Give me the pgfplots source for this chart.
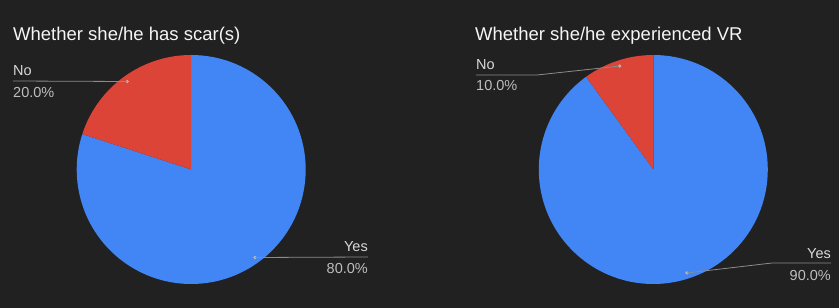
\documentclass[border=0pt]{standalone}
\usepackage{pgfplots}
\pgfplotsset{compat=1.18}
\usepackage{pgfplotstable}
\usepackage{fontspec}
\setmainfont{Liberation Sans}

\definecolor{bg}{HTML}{212121}
\definecolor{pieblue}{HTML}{4285F4}
\definecolor{piered}{HTML}{DB4437}
\definecolor{titlecol}{HTML}{F5F5F5}
\definecolor{labcol}{HTML}{D9D9D9}
\definecolor{pctcol}{HTML}{BDBDBD}
\definecolor{leadcol}{HTML}{8C8C8C}

% shares in percent, slices run clockwise from 12 o'clock
\pgfplotstableread{
answer share
Yes 80
No 20
}\scartable
\pgfplotstableread{
answer share
Yes 90
No 10
}\vrtable

\newcommand\getshare[3]{\pgfplotstablegetelem{#2}{share}\of#1\edef#3{\pgfplotsretval}}

% slice angles and label-dot positions (dot at 95% of the radius)
\newcommand\pieangles[3]{%
  \getshare#1{0}\tmpYes
  \getshare#1{1}\tmpNo
  \pgfmathsetmacro#2{90-3.6*\tmpYes}%
  \pgfmathsetmacro\tmpa{90-1.8*\tmpYes}%
  \pgfmathsetmacro\tmpb{90-3.6*\tmpYes-1.8*\tmpNo}%
  \pgfmathsetmacro\tmpyx{0.95*cos(\tmpa)}%
  \pgfmathsetmacro\tmpyy{0.95*sin(\tmpa)}%
  \pgfmathsetmacro\tmpnx{0.95*cos(\tmpb)}%
  \pgfmathsetmacro\tmpny{0.95*sin(\tmpb)}%
  \expandafter\edef\csname #3YesX\endcsname{\tmpyx}%
  \expandafter\edef\csname #3YesY\endcsname{\tmpyy}%
  \expandafter\edef\csname #3NoX\endcsname{\tmpnx}%
  \expandafter\edef\csname #3NoY\endcsname{\tmpny}%
}
\pieangles\scartable\scarEnd{scar}
\pieangles\vrtable\vrEnd{vr}
\pgfmathsetmacro\scarEndX{cos(\scarEnd)}
\pgfmathsetmacro\scarEndY{sin(\scarEnd)}
\pgfmathsetmacro\vrEndX{cos(\vrEnd)}
\pgfmathsetmacro\vrEndY{sin(\vrEnd)}

\pgfplotsset{
  pie/.style={hide axis, clip=false, x=114.5pt, y=114.5pt,
    xmin=-1, xmax=1, ymin=-1, ymax=1, anchor=south west},
  dot/.style={only marks, mark=*, mark size=1.4pt, color=pctcol}
}

\newcommand\titlefont{\fontsize{18.5}{22}\selectfont}
\newcommand\labfont{\fontsize{14.5}{17}\selectfont}

\begin{document}
\begin{tikzpicture}[x=1pt, y=1pt]
\fill[bg] (0,0) rectangle (839,308);

% --- Whether she/he has scar(s)
\begin{axis}[pie, at={(76.7pt,24pt)}]
  \fill[pieblue] (axis cs:0,0) -- (axis cs:0,1)
    arc[start angle=90, end angle=\scarEnd, radius=114.5pt] -- cycle;
  \fill[piered] (axis cs:0,0) -- (axis cs:\scarEndX,\scarEndY)
    arc[start angle=\scarEnd, end angle=-270, radius=114.5pt] -- cycle;
  \addplot[dot] coordinates {(\scarYesX,\scarYesY) (\scarNoX,\scarNoY)};
  \coordinate (scarYesDot) at (axis cs:\scarYesX,\scarYesY);
  \coordinate (scarNoDot) at (axis cs:\scarNoX,\scarNoY);
\end{axis}

% --- Whether she/he experienced VR
\begin{axis}[pie, at={(538.8pt,24pt)}]
  \fill[pieblue] (axis cs:0,0) -- (axis cs:0,1)
    arc[start angle=90, end angle=\vrEnd, radius=114.5pt] -- cycle;
  \fill[piered] (axis cs:0,0) -- (axis cs:\vrEndX,\vrEndY)
    arc[start angle=\vrEnd, end angle=-270, radius=114.5pt] -- cycle;
  \addplot[dot] coordinates {(\vrYesX,\vrYesY) (\vrNoX,\vrNoY)};
  \coordinate (vrYesDot) at (axis cs:\vrYesX,\vrYesY);
  \coordinate (vrNoDot) at (axis cs:\vrNoX,\vrNoY);
\end{axis}

% titles
\node[anchor=base west, inner sep=0, text=titlecol, font=\titlefont] at (13,267) {Whether she/he has scar(s)};
\node[anchor=base west, inner sep=0, text=titlecol, font=\titlefont] at (475,267) {Whether she/he experienced VR};

% leader lines
\draw[leadcol, line width=0.8pt] (scarNoDot) -- (13,227);
\draw[leadcol, line width=0.8pt] (scarYesDot) -- (368,51);
\draw[leadcol, line width=0.8pt] (vrNoDot) -- (537,233) -- (476,233);
\draw[leadcol, line width=0.8pt] (vrYesDot) -- (772,45) -- (831,45);

% slice labels
\node[anchor=base west, inner sep=0, text=labcol, font=\labfont] at (13,232) {No};
\node[anchor=base west, inner sep=0, text=pctcol, font=\labfont] at (13,210) {20.0\%};
\node[anchor=base east, inner sep=0, text=labcol, font=\labfont] at (368,56) {Yes};
\node[anchor=base east, inner sep=0, text=pctcol, font=\labfont] at (368,34) {80.0\%};
\node[anchor=base west, inner sep=0, text=labcol, font=\labfont] at (476,238) {No};
\node[anchor=base west, inner sep=0, text=pctcol, font=\labfont] at (476,217) {10.0\%};
\node[anchor=base east, inner sep=0, text=labcol, font=\labfont] at (831,49) {Yes};
\node[anchor=base east, inner sep=0, text=pctcol, font=\labfont] at (831,27) {90.0\%};

\pgfresetboundingbox
\path (0,0) rectangle (839,308);
\end{tikzpicture}
\end{document}
